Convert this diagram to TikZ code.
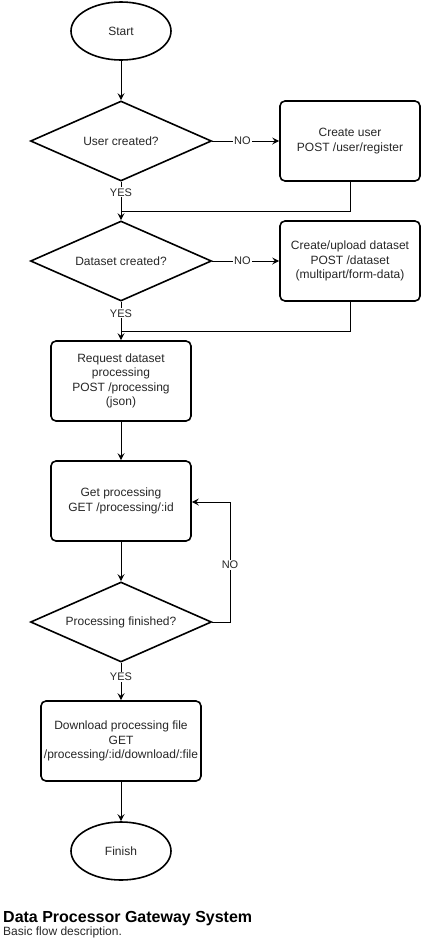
\documentclass[tikz,border=0pt]{standalone}
\usepackage{fontspec}
\setmainfont{Liberation Sans}
\usetikzlibrary{shapes.geometric,arrows.meta}
\begin{document}
\begin{tikzpicture}[x=1pt,y=-1pt,
  txt/.style={font=\fontsize{12}{14.4}\selectfont, text=black!85, align=center},
  proc/.style={txt, draw, line width=1.6pt, rounded corners=5pt, minimum width=140pt, minimum height=80pt, inner sep=0pt},
  term/.style={txt, draw, ellipse, line width=1.6pt, minimum width=100pt, minimum height=58pt, inner sep=0pt},
  dec/.style={txt, draw, diamond, aspect=2.26, line width=1.6pt, minimum width=181pt, minimum height=80pt, inner sep=0pt},
  conn/.style={line width=1pt},
  arr/.style={conn, -{Stealth[length=7pt,width=7pt,inset=2.5pt]}},
  lbl/.style={font=\fontsize{11}{13}\selectfont, text=black!85, fill=white, inner sep=1pt}
]
\useasboundingbox (0,0) rectangle (421,945);

\node[term] (start) at (121,31) {Start};
\node[dec] (d1) at (121,141) {User created?};
\node[proc] (b1) at (350,141) {Create user\\POST /user/register};
\node[dec] (d2) at (121,261) {Dataset created?};
\node[proc] (b2) at (350,261) {Create/upload dataset\\POST /dataset\\(multipart/form-data)};
\node[proc] (b3) at (121,381) {Request dataset\\processing\\POST /processing\\(json)};
\node[proc] (b4) at (121,501) {Get processing\\GET /processing/:id};
\node[dec] (d3) at (121,622) {Processing finished?};
\node[proc, minimum width=160pt] (b5) at (121,741) {Download processing file\\GET\\/processing/:id/download/:file};
\node[term] (fin) at (121,851) {Finish};

\coordinate (j1) at (121,211);
\coordinate (j2) at (121,331);
\coordinate (c1) at (230,622);
\coordinate (c2) at (230,502);

\draw[arr] (start) -- (d1);
\draw[arr] (d1.east) -- node[lbl, pos=0.45] {NO} (b1.west);
\draw[arr] (d1.south) -- node[lbl, pos=0.275] {YES} (d2.north);
\draw[conn] (b1.south) |- (j1);
\draw[arr] (d2.east) -- node[lbl, pos=0.45] {NO} (b2.west);
\draw[arr] (d2.south) -- node[lbl, pos=0.3] {YES} (b3.north);
\draw[conn] (b2.south) |- (j2);
\draw[arr] (b3) -- (b4);
\draw[arr] (b4) -- (d3);
\draw[arr] (d3.east) -- (c1) -- node[lbl, pos=0.475] {NO} (c2) -- (b4.east |- c2);
\draw[arr] (d3.south) -- node[lbl, pos=0.38] {YES} (b5.north);
\draw[arr] (b5) -- (fin);

\node[anchor=base west, inner sep=0pt, font=\fontsize{16}{19}\selectfont\bfseries] (title) at (3,922) {Data Processor Gateway System};
\node[anchor=base west, inner sep=0pt, font=\fontsize{12}{14}\selectfont, text=black!85] (sub) at (3,935) {Basic flow description.};
\end{tikzpicture}
\end{document}
